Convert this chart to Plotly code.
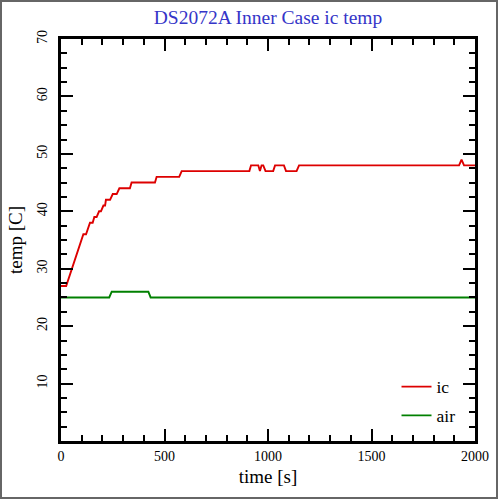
import plotly.graph_objects as go

# ic temperature as (time, temp) breakpoints
ic_time = [0, 25, 108, 121, 140, 153, 161, 172, 184, 193, 205, 213, 217, 237,
           250, 269, 282, 333, 341, 454, 462, 571, 583, 910, 918, 953, 961,
           969, 977, 988, 1025, 1034, 1077, 1087, 1138, 1150, 1923, 1935,
           1947, 2000]
ic_temp = [27, 27, 36, 36, 38, 38, 39, 39, 40, 40, 41, 41, 42, 42,
           43, 43, 44, 44, 45, 45, 46, 46, 47, 47, 48, 48, 47,
           48, 48, 47, 47, 48, 48, 47, 47, 48, 48, 49,
           48, 48]

air_time = [0, 233, 245, 422, 433, 2000]
air_temp = [25, 25, 26, 26, 25, 25]

x_ticks = [0, 500, 1000, 1500, 2000]
y_ticks = [10, 20, 30, 40, 50, 60, 70]

serif = "Liberation Serif"

fig = go.Figure()
fig.add_trace(go.Scatter(x=ic_time, y=ic_temp, mode="lines", name="ic",
                         legendgroup="ic",
                         line=dict(color="#dd0000", width=1.9)))
fig.add_trace(go.Scatter(x=air_time, y=air_temp, mode="lines", name="air",
                         legendgroup="air",
                         line=dict(color="#008000", width=1.9)))

axis_common = dict(
    automargin=False,
    showgrid=False,
    zeroline=False,
    showline=True,
    linecolor="black",
    linewidth=2.5,
    mirror="ticks",
    ticks="inside",
    ticklen=12,
    tickwidth=2,
    tickcolor="black",
    tickfont=dict(family=serif, size=14, color="black"),
)

fig.update_xaxes(
    range=[0, 2000],
    tickvals=x_ticks,
    title=dict(text="time [s]", font=dict(family=serif, size=19, color="black"), standoff=8),
    minor=dict(dtick=100, tick0=0, ticks="inside", ticklen=6, tickwidth=1.5, tickcolor="black"),
    **axis_common,
)
fig.update_yaxes(
    range=[0, 70],
    tickvals=y_ticks,
    tickangle=-90,
    ticklabelstandoff=6,
    title=dict(text="temp [C]", font=dict(family=serif, size=19, color="black"), standoff=8),
    minor=dict(dtick=2.5, tick0=0, ticks="inside", ticklen=6, tickwidth=1.5, tickcolor="black"),
    **axis_common,
)

# grey frame round the whole picture
pw, ph = 414.0, 402.0
fig.add_shape(type="rect", xref="paper", yref="paper",
              x0=-60 / pw, x1=436 / pw, y0=-57 / ph, y1=440 / ph,
              line=dict(color="#666666", width=2), fillcolor="rgba(0,0,0,0)",
              layer="below")

fig.update_layout(
    width=499,
    height=500,
    margin=dict(l=61, r=24, t=39, b=59, autoexpand=False),
    paper_bgcolor="white",
    plot_bgcolor="white",
    title=dict(text="DS2072A Inner Case ic temp", x=268 / 499, xanchor="center",
               y=1 - 17 / 500, yanchor="middle",
               font=dict(family=serif, size=19.5, color="#3535c8")),
    showlegend=True,
    legend=dict(x=0.965, y=0.018, xanchor="right", yanchor="bottom",
                bgcolor="rgba(0,0,0,0)", tracegroupgap=3,
                font=dict(family=serif, size=17.5, color="black")),
)

# the page's default body margin would push the figure off by 8px
fig.write_html("out.html",
               config={"displayModeBar": False},
               post_script="document.body.style.margin='0px';document.body.style.overflow='hidden';")
